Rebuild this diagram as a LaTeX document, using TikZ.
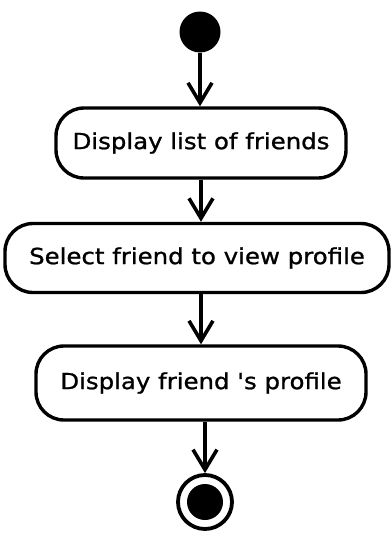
\documentclass[tikz,border=0pt]{standalone}
\usepackage{fontspec}
\setmainfont{DejaVu Sans}
\usetikzlibrary{arrows.meta}
\newfontfamily\actfamily[FakeStretch=1.1,FakeBold=1]{DejaVu Sans}
\begin{document}
\begin{tikzpicture}[x=1pt,y=1pt,
  act/.style={draw=black, line width=3.4pt, rounded corners=28pt, fill=white,
    font=\actfamily\fontsize{22.2pt}{26pt}\selectfont, inner sep=0pt},
  flow/.style={line width=3.6pt, -{Straight Barb[length=20pt,width=24pt,line width=3.6pt]}}]
\useasboundingbox (0,0) rectangle (391,-533);
\node[circle, fill=black, minimum size=41pt, inner sep=0pt] (start) at (200,-32) {};
\node[act, minimum width=290pt, minimum height=70pt] (a1) at (201,-143) {Display list of friends};
\node[act, minimum width=384pt, minimum height=69pt] (a2) at (197,-258) {Select friend to view profile};
\node[act, minimum width=330pt, minimum height=74pt] (a3) at (201,-383) {Display friend 's profile};
\node[circle, draw=black, line width=3.8pt, minimum size=54pt, inner sep=0pt] (end) at (205,-502) {};
\node[circle, fill=black, minimum size=36pt, inner sep=0pt] (endin) at (end.center) {};
\draw[flow] (start.south) -- (start.south |- a1.north);
\draw[flow] (a1.south) -- (a1.south |- a2.north);
\draw[flow] (a2.south -| a1.south) -- (a1.south |- a3.north);
\draw[flow] (a3.south -| end.north) -- (end.north);
\end{tikzpicture}
\end{document}
